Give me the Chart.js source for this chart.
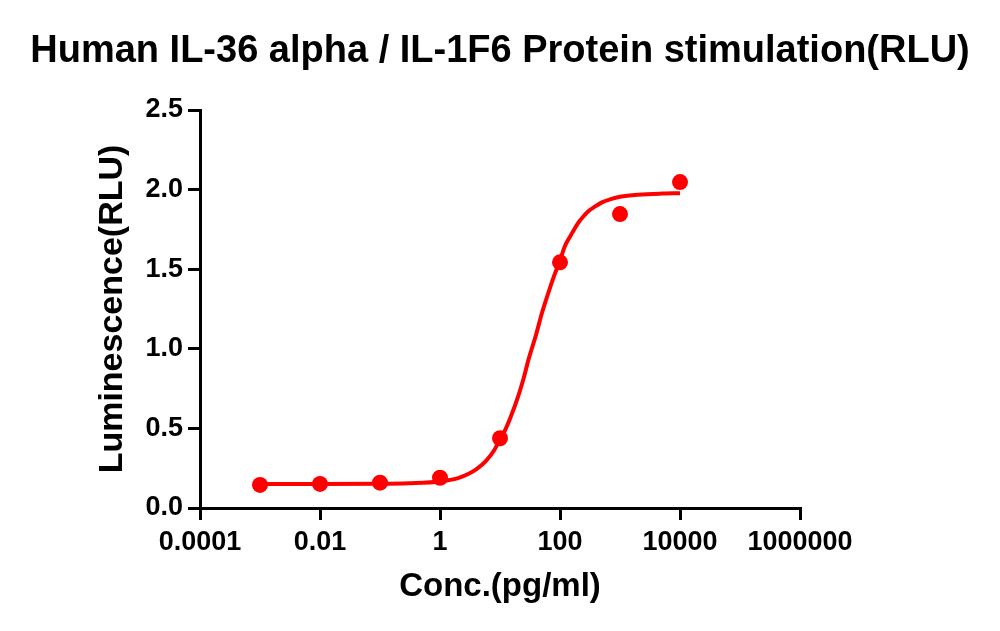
<!DOCTYPE html>
<html>
<head>
<meta charset="utf-8">
<script src="https://cdn.jsdelivr.net/npm/chart.js@4.4.1/dist/chart.umd.min.js"></script>
<style>
  html, body { margin: 0; padding: 0; background: #fff; }
  #wrap { width: 1000px; height: 631px; }
</style>
</head>
<body>
<div id="wrap"><canvas id="c" width="1000" height="631"></canvas></div>
<script>
// ---- data ----
const titleText = 'Human IL-36 alpha / IL-1F6 Protein stimulation(RLU)';
const xTitle = 'Conc.(pg/ml)';
const yTitle = 'Luminescence(RLU)';

const pointConc = [0.001, 0.01, 0.1, 1, 10, 100, 1000, 10000];
const pointRLU  = [0.145, 0.151, 0.159, 0.190, 0.438, 1.543, 1.846, 2.047];

const curveConc = [0.001, 0.01, 0.1, 0.3, 1, 2, 3, 4, 5, 6, 8, 10, 12, 15, 20, 25, 30, 40, 50, 60, 80, 100, 120, 150, 200, 250, 300, 400, 500, 700, 1000, 2000, 5000, 10000];
const curveRLU  = [0.150, 0.150, 0.152, 0.156, 0.167, 0.188, 0.215, 0.243, 0.272, 0.301, 0.363, 0.430, 0.484, 0.570, 0.700, 0.820, 0.935, 1.090, 1.225, 1.320, 1.460, 1.555, 1.643, 1.710, 1.790, 1.835, 1.865, 1.898, 1.920, 1.940, 1.955, 1.968, 1.975, 1.977];

const xTickValues = [0.0001, 0.01, 1, 100, 10000, 1000000];
const xTickLabels = ['0.0001', '0.01', '1', '100', '10000', '1000000'];
const yTickValues = [0, 0.5, 1.0, 1.5, 2.0, 2.5];
const yTickLabels = ['0.0', '0.5', '1.0', '1.5', '2.0', '2.5'];

// ---- chart ----
const RED = 'rgb(255,0,0)';
const FONT = "'Liberation Sans', Arial, sans-serif";

new Chart(document.getElementById('c'), {
  type: 'scatter',
  data: {
    datasets: [
      {
        label: 'points',
        data: pointConc.map((x, i) => ({ x: x, y: pointRLU[i] })),
        showLine: false,
        pointRadius: 8,
        pointHoverRadius: 8,
        pointBackgroundColor: RED,
        pointBorderColor: RED,
        pointBorderWidth: 0,
        order: 0
      },
      {
        label: 'fit',
        data: curveConc.map((x, i) => ({ x: x, y: curveRLU[i] })),
        showLine: true,
        pointRadius: 0,
        borderColor: RED,
        borderWidth: 4,
        cubicInterpolationMode: 'monotone',
        fill: false,
        order: 1
      }
    ]
  },
  options: {
    responsive: false,
    animation: false,
    devicePixelRatio: 1,
    layout: { padding: 0 },
    plugins: {
      legend: { display: false },
      tooltip: { enabled: false },
      title: {
        display: true,
        text: titleText,
        color: '#000',
        font: { family: FONT, size: 38, weight: 'bold', lineHeight: 1.2 },
        padding: { top: 29, bottom: 35.4 }
      }
    },
    scales: {
      x: {
        type: 'logarithmic',
        position: 'bottom',
        min: 0.0001,
        max: 1000000,
        afterFit: s => { s.height = 123; },
        afterBuildTicks: s => { s.ticks = xTickValues.map(v => ({ value: v })); },
        ticks: {
          color: '#000',
          autoSkip: false,
          maxRotation: 0,
          padding: 6,
          font: { family: FONT, size: 27, weight: 'bold' },
          callback: (v, i) => xTickLabels[i]
        },
        grid: { drawOnChartArea: false, drawTicks: true, tickLength: 12, color: '#000', lineWidth: 3 },
        border: { display: true, color: '#000', width: 3 },
        title: {
          display: true,
          text: xTitle,
          color: '#000',
          font: { family: FONT, size: 33, weight: 'bold', lineHeight: 1.2 },
          padding: { top: 0, bottom: 24 }
        }
      },
      y: {
        type: 'linear',
        position: 'left',
        min: 0,
        max: 2.5,
        afterFit: s => { s.width = 200; },
        afterBuildTicks: s => { s.ticks = yTickValues.map(v => ({ value: v })); },
        ticks: {
          color: '#000',
          padding: 5,
          font: { family: FONT, size: 27, weight: 'bold' },
          callback: (v, i) => yTickLabels[i]
        },
        grid: { drawOnChartArea: false, drawTicks: true, tickLength: 12, color: '#000', lineWidth: 3 },
        border: { display: true, color: '#000', width: 3 },
        title: {
          display: true,
          text: yTitle,
          color: '#000',
          font: { family: FONT, size: 34, weight: 'bold', lineHeight: 1.2 },
          padding: { top: 92, bottom: 0 }
        }
      },
      yRightSpace: {
        type: 'linear',
        position: 'right',
        display: true,
        min: 0,
        max: 2.5,
        afterFit: s => { s.width = 200; },
        ticks: { display: false },
        grid: { display: false, drawTicks: false },
        border: { display: false },
        title: { display: false }
      }
    }
  }
});
</script>
</body>
</html>
